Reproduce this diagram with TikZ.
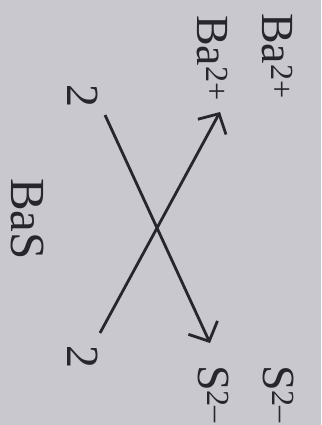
\documentclass[tikz,border=0pt]{standalone}
\usepackage{fontspec}
\setmainfont{Liberation Serif}
\usetikzlibrary{arrows.meta}
\definecolor{paper}{HTML}{C9C8CF}
\definecolor{ink}{HTML}{26262C}
\tikzset{
  lbl/.style={rotate=-90,anchor=base west,inner sep=0pt,text=ink,font=\fontsize{46}{46}\selectfont},
  big/.style={lbl,font=\fontsize{49}{49}\selectfont},
  cross/.style={draw=ink,line width=2.8pt,-{Straight Barb[length=15pt,width=32pt,line width=2.8pt]}}
}
\begin{document}
\begin{tikzpicture}[x=1pt,y=1pt]
\fill[paper] (0,0) rectangle (321,-425);
\useasboundingbox (0,0) rectangle (321,-425);
\node[lbl] (ba1) at (262,-13) {Ba\textsuperscript{2+}};
\node[lbl] (ba2) at (197,-15) {Ba\textsuperscript{2+}};
\node[lbl] (n1) at (67,-84) {2};
\node[big] (bas) at (12,-178) {BaS};
\node[lbl] (n2) at (67,-345) {2};
\node[lbl] (s2) at (198,-365) {S\textsuperscript{2\textendash}};
\node[lbl] (s1) at (263,-365) {S\textsuperscript{2\textendash}};
\coordinate (a0) at (105,-115);
\coordinate (a1) at (210,-343);
\coordinate (b0) at (100,-333);
\coordinate (b1) at (220,-112);
\draw[cross] (a0) -- (a1);
\draw[cross] (b0) -- (b1);
\end{tikzpicture}
\end{document}
